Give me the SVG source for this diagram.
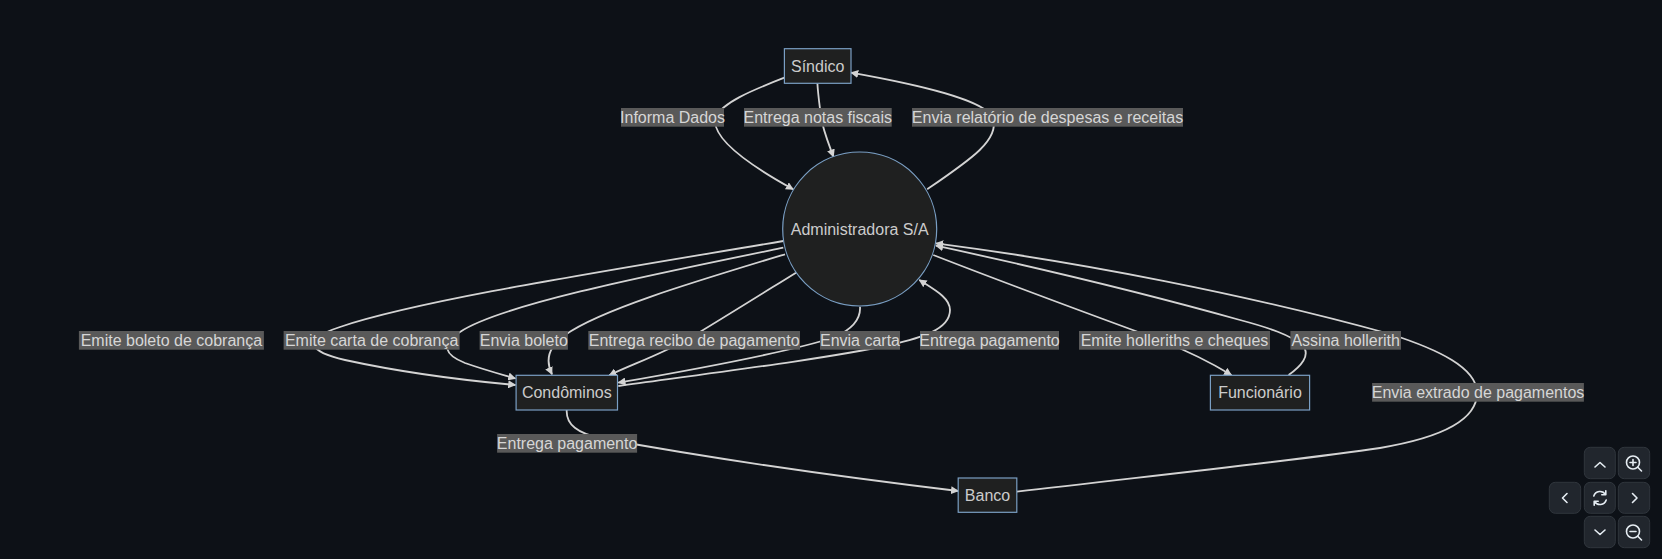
<svg xmlns="http://www.w3.org/2000/svg" width="1662" height="559" viewBox="0 0 1662 559">
  <style>
    .bg { fill: #0d1117; }
    .node rect, .node circle { fill: #1f2020; stroke: #7a9fc4; stroke-width: 1.2; }
    .node text { fill: #cccccc; font-family: "Liberation Sans", Arial, sans-serif; font-size: 16px; text-anchor: middle; dominant-baseline: central; }
    .edge { fill: none; stroke: #d3d3d3; stroke-width: 1.8; }
    .lbl rect { fill: #595959; }
    .lbl text { fill: #d6d6d6; font-family: "Liberation Sans", Arial, sans-serif; font-size: 16px; text-anchor: middle; dominant-baseline: central; }
    .btn rect { fill: #21262d; stroke: #30363d; stroke-width: 1; }
    .btn path, .btn circle { fill: none; stroke: #e6edf3; stroke-width: 1.6; stroke-linecap: round; stroke-linejoin: round; }
  </style>
  <defs>
    <marker id="arrow" viewBox="0 0 10 10" refX="9" refY="5" markerWidth="8" markerHeight="8" markerUnits="userSpaceOnUse" orient="auto">
      <path d="M0,0 L10,5 L0,10 z" fill="#d3d3d3"/>
    </marker>
  </defs>
  <rect class="bg" x="0" y="0" width="1662" height="559"/>

  <g id="connectors">
    <path class="edge" marker-end="url(#arrow)" d="M784.4,77.7 C750,91 722,103 716,117 C710,135 740,160 793.2,189.3"/>
    <path class="edge" marker-end="url(#arrow)" d="M817.4,83.3 C818,95 820,108 821,117 C823,130 828,142 833.4,156.7"/>
    <path class="edge" marker-end="url(#arrow)" d="M927.2,189.3 C970,160 1000,140 993,118 C985,100 920,85 851,72.7"/>
    <path class="edge" marker-end="url(#arrow)" d="M783.3,241 C600,272 420,300 340,327 C300,340 310,352 345,360 C400,372 460,380 515.4,385"/>
    <path class="edge" marker-end="url(#arrow)" d="M783.3,247.7 C650,275 500,305 460,332 C440,345 445,355 465,363 C485,370 500,374 515.4,378.5"/>
    <path class="edge" marker-end="url(#arrow)" d="M785,254.3 C690,283 600,310 565,335 C548,347 545,360 552,374.3"/>
    <path class="edge" marker-end="url(#arrow)" d="M796,272.7 C760,295 720,320 690,338 C660,355 630,365 609.3,375.3"/>
    <path class="edge" marker-end="url(#arrow)" d="M860,306.7 C861,320 850,330 835,337 C790,352 680,372 618.3,382.7"/>
    <path class="edge" marker-end="url(#arrow)" d="M618.3,386 C720,372 830,358 890,345 C920,338 950,330 950,310 C950,298 935,290 919.3,280"/>
    <path class="edge" marker-end="url(#arrow)" d="M933.3,255 C1010,285 1100,318 1160,340 C1190,352 1210,362 1231.4,375"/>
    <path class="edge" marker-end="url(#arrow)" d="M1288.6,375 C1300,367 1312,355 1302,345 C1290,335 1270,328 1240,320 C1140,292 1030,266 936,245.7"/>
    <path class="edge" marker-end="url(#arrow)" d="M1016.8,491.7 C1150,476 1300,460 1380,448 C1440,438 1478,420 1477,392 C1476,368 1440,350 1390,334 C1250,295 1080,262 936,243.3"/>
    <path class="edge" marker-end="url(#arrow)" d="M566.7,410 C566,425 578,433 600,438 C720,460 850,478 958.2,491"/>
  </g>

  <g id="edge-labels">
    <g class="lbl"><rect x="621" y="108" width="103" height="18.7"/><text x="672.5" y="117.4">Informa Dados</text></g>
    <g class="lbl"><rect x="744" y="108" width="147.7" height="18.7"/><text x="817.8" y="117.4">Entrega notas fiscais</text></g>
    <g class="lbl"><rect x="912" y="108" width="271" height="18.7"/><text x="1047.5" y="117.4">Envia relatório de despesas e receitas</text></g>
    <g class="lbl"><rect x="78.9" y="331" width="185" height="18.7"/><text x="171.4" y="340.4">Emite boleto de cobrança</text></g>
    <g class="lbl"><rect x="283.6" y="331" width="176" height="18.7"/><text x="371.6" y="340.4">Emite carta de cobrança</text></g>
    <g class="lbl"><rect x="479.6" y="331" width="88.3" height="18.7"/><text x="523.8" y="340.4">Envia boleto</text></g>
    <g class="lbl"><rect x="588.3" y="331" width="211.7" height="18.7"/><text x="694.2" y="340.4">Entrega recibo de pagamento</text></g>
    <g class="lbl"><rect x="820" y="331" width="80" height="18.7"/><text x="860" y="340.4">Envia carta</text></g>
    <g class="lbl"><rect x="920" y="331" width="139" height="18.7"/><text x="989.5" y="340.4">Entrega pagamento</text></g>
    <g class="lbl"><rect x="1079" y="331" width="191" height="18.7"/><text x="1174.5" y="340.4">Emite holleriths e cheques</text></g>
    <g class="lbl"><rect x="1290.4" y="331" width="110.6" height="18.7"/><text x="1345.7" y="340.4">Assina hollerith</text></g>
    <g class="lbl"><rect x="1372.1" y="383" width="211.8" height="18.7"/><text x="1478" y="392.4">Envia extrado de pagamentos</text></g>
    <g class="lbl"><rect x="497.1" y="434" width="140" height="18.7"/><text x="567.1" y="443.4">Entrega pagamento</text></g>
  </g>

  <g id="node-sindico" class="node">
    <rect x="784.4" y="48.7" width="66.6" height="34.6"/>
    <text x="817.7" y="66">Síndico</text>
  </g>
  <g id="node-administradora" class="node">
    <circle cx="859.7" cy="229" r="77"/>
    <text x="859.7" y="229">Administradora S/A</text>
  </g>
  <g id="node-condominos" class="node">
    <rect x="516.1" y="375.3" width="101.4" height="34.7"/>
    <text x="566.8" y="392.7">Condôminos</text>
  </g>
  <g id="node-funcionario" class="node">
    <rect x="1210.4" y="375.3" width="99.2" height="34.7"/>
    <text x="1260" y="392.7">Funcionário</text>
  </g>
  <g id="node-banco" class="node">
    <rect x="958.2" y="478" width="58.6" height="34.3"/>
    <text x="987.5" y="495.2">Banco</text>
  </g>

  <g id="controls">
    <g class="btn"><rect x="1584.3" y="447.3" width="31" height="31.4" rx="6"/><path d="M1595,467 L1600,462.5 L1605,467"/></g>
    <g class="btn"><rect x="1618.3" y="447.3" width="31.4" height="31.4" rx="6"/><circle cx="1633" cy="462.5" r="6.5"/><path d="M1637.8,467.3 L1641.5,471 M1630,462.5 L1636,462.5 M1633,459.5 L1633,465.5"/></g>
    <g class="btn"><rect x="1549.3" y="482.3" width="31.4" height="31" rx="6"/><path d="M1567,493.5 L1562.5,498 L1567,502.5"/></g>
    <g class="btn"><rect x="1584.3" y="482.3" width="31" height="31" rx="6"/><path d="M1593.8,496 A6.5,6.5 0 0 1 1605.5,494.5 M1606.2,500 A6.5,6.5 0 0 1 1594.5,501.5 M1605.8,490.8 L1605.8,494.8 L1601.8,494.8 M1594.2,505.2 L1594.2,501.2 L1598.2,501.2"/></g>
    <g class="btn"><rect x="1618.3" y="482.3" width="31.4" height="31" rx="6"/><path d="M1632.5,493.5 L1637,498 L1632.5,502.5"/></g>
    <g class="btn"><rect x="1584.3" y="516.3" width="31" height="31.4" rx="6"/><path d="M1595,530 L1600,534.5 L1605,530"/></g>
    <g class="btn"><rect x="1618.3" y="516.3" width="31.4" height="31.4" rx="6"/><circle cx="1633" cy="531.5" r="6.5"/><path d="M1637.8,536.3 L1641.5,540 M1630,531.5 L1636,531.5"/></g>
  </g>
</svg>
